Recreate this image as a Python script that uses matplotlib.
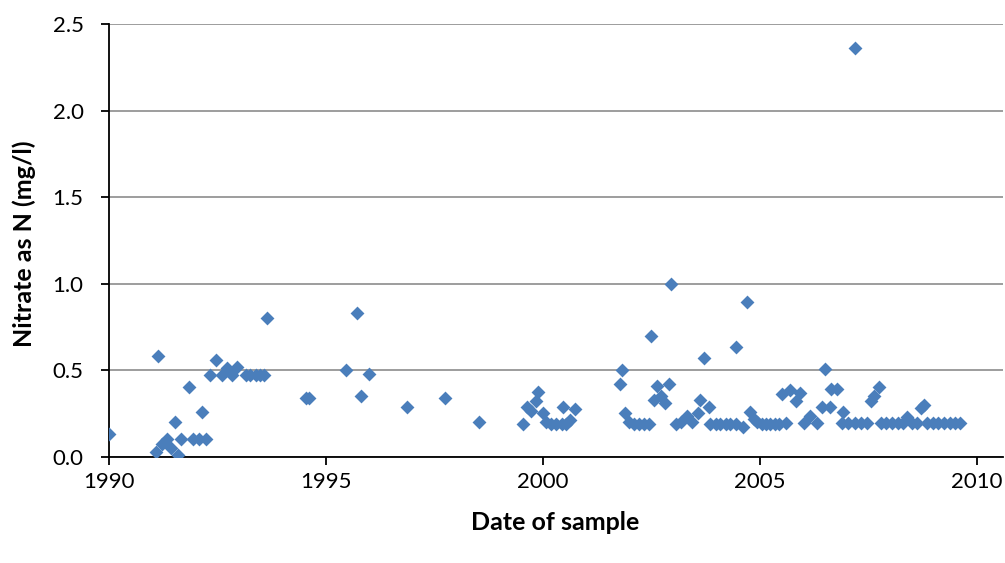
import matplotlib
matplotlib.use("Agg")
import matplotlib.pyplot as plt

# Sample dates (decimal years) and nitrate as N (mg/l)
dates = [
    1990.00, 1991.14, 1991.10, 1991.24, 1991.34, 1991.43, 1991.60, 1991.54,
    1991.68, 1991.95, 1992.08, 1992.25, 1991.85, 1992.16,
    1992.35, 1992.47, 1992.62, 1992.72, 1992.85, 1992.97, 1993.16, 1993.27,
    1993.39, 1993.50, 1993.58, 1993.66,
    1994.55, 1994.62, 1995.73, 1995.48, 1996.01, 1995.81, 1996.88, 1997.76,
    1998.53, 1999.55, 1999.65, 1999.74, 1999.84, 1999.90, 2000.01,
    2000.07, 2000.20, 2000.32, 2000.45, 2000.55, 2000.63, 2000.48, 2000.76,
    2001.78, 2001.84, 2001.91, 2001.99, 2002.10, 2002.22, 2002.33, 2002.45,
    2002.49, 2002.63, 2002.56, 2002.73, 2002.83, 2002.91, 2002.97,
    2003.08, 2003.20, 2003.33, 2003.45, 2003.58, 2003.64, 2003.72, 2003.83,
    2003.87, 2003.99, 2004.10, 2004.22, 2004.33, 2004.45, 2004.45, 2004.62,
    2004.72, 2004.79, 2004.87, 2004.95, 2005.05, 2005.15, 2005.25, 2005.35,
    2005.45, 2005.60, 2005.52, 2005.71, 2005.85, 2005.94,
    2006.02, 2006.17, 2006.33, 2006.44, 2006.52, 2006.62, 2006.65, 2006.79,
    2006.93, 2006.90, 2007.05, 2007.20, 2007.35, 2007.48, 2007.19,
    2007.56, 2007.64, 2007.75, 2007.80, 2007.92, 2008.05, 2008.18, 2008.30,
    2008.40, 2008.52, 2008.63, 2008.71, 2008.80, 2008.87, 2009.00, 2009.12,
    2009.25, 2009.38, 2009.50, 2009.62,
]
nitrate = [
    0.13, 0.58, 0.03, 0.075, 0.10, 0.05, 0.01, 0.20,
    0.10, 0.10, 0.10, 0.10, 0.40, 0.26,
    0.47, 0.56, 0.47, 0.51, 0.47, 0.52, 0.47, 0.47,
    0.47, 0.47, 0.47, 0.80,
    0.34, 0.34, 0.83, 0.50, 0.48, 0.35, 0.29, 0.34,
    0.20, 0.19, 0.29, 0.265, 0.32, 0.375, 0.25,
    0.20, 0.19, 0.19, 0.19, 0.19, 0.21, 0.285, 0.275,
    0.42, 0.50, 0.25, 0.20, 0.19, 0.19, 0.19, 0.19,
    0.70, 0.41, 0.33, 0.35, 0.31, 0.42, 0.995,
    0.19, 0.20, 0.235, 0.20, 0.25, 0.33, 0.57, 0.285,
    0.19, 0.19, 0.19, 0.19, 0.19, 0.19, 0.635, 0.17,
    0.895, 0.26, 0.22, 0.20, 0.19, 0.19, 0.19, 0.19,
    0.19, 0.195, 0.36, 0.385, 0.32, 0.37,
    0.195, 0.235, 0.195, 0.29, 0.505, 0.29, 0.39, 0.39,
    0.26, 0.195, 0.195, 0.195, 0.195, 0.195, 2.36,
    0.32, 0.35, 0.40, 0.195, 0.195, 0.195, 0.195, 0.195,
    0.23, 0.195, 0.195, 0.28, 0.30, 0.195, 0.195, 0.195,
    0.195, 0.195, 0.195, 0.195,
]
x_ticks = [1990, 1995, 2000, 2005, 2010]
y_ticks = [0.0, 0.5, 1.0, 1.5, 2.0, 2.5]

plt.rcParams['font.family'] = ['Lato', 'DejaVu Sans']

fig = plt.figure(figsize=(10.05, 5.63), dpi=100)
ax = fig.add_axes([108.5 / 1005, 1 - 456.7 / 563, (1003 - 108.5) / 1005, (456.7 - 24) / 563])

ax.scatter(dates, nitrate, marker='D', s=50, color='#4a7ebb', linewidths=0, zorder=3)

ax.set_xlim(1990, 1990 + (1003 - 108.5) / 43.4)
ax.set_ylim(0, 2.5)
ax.set_xticks(x_ticks)
ax.set_xticklabels([str(t) for t in x_ticks], fontsize=16)
ax.set_yticks(y_ticks)
ax.set_yticklabels([f"{t:.1f}" for t in y_ticks], fontsize=16)
ax.yaxis.grid(True, color='#8c8c8c', linewidth=1.2, zorder=0)
ax.set_axisbelow(True)

for s in ['top', 'right']:
    ax.spines[s].set_visible(False)
for s in ['left', 'bottom']:
    ax.spines[s].set_linewidth(1.3)
    ax.spines[s].set_color('black')
ax.tick_params(axis='both', direction='out', length=6, width=1.3)
ax.tick_params(axis='x', pad=5)
ax.tick_params(axis='y', pad=12)

ax.set_xlabel('Date of sample', fontsize=18, fontweight='bold', va='center')
ax.xaxis.set_label_coords(0.499, -0.152)
ax.set_ylabel('Nitrate as N (mg/l)', fontsize=18, fontweight='bold', va='center')
ax.yaxis.set_label_coords(-0.0945, 0.493)

fig.savefig('out.png', dpi=100)
